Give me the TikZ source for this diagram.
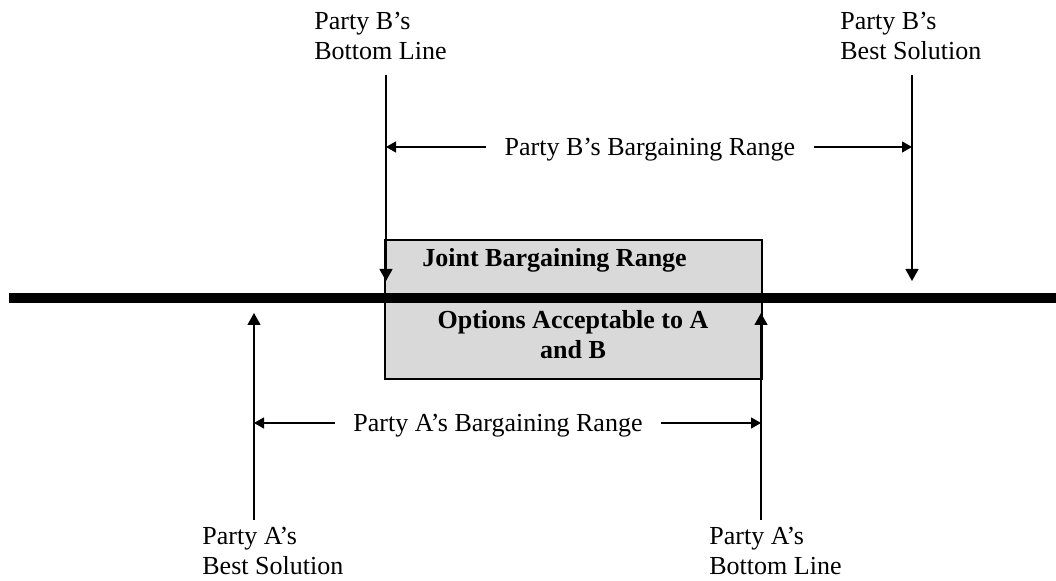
\documentclass[tikz,border=0pt]{standalone}
\usepackage{fontspec}
\setmainfont{Liberation Serif}
\usetikzlibrary{arrows.meta, positioning}
\definecolor{boxgray}{RGB}{217,217,217}
\definecolor{inkblack}{RGB}{0,0,0}
\tikzset{
  axisline/.style={line width=5pt, color=inkblack},
  marker/.style={-{Triangle[length=6pt, width=6.5pt]}, line width=0.6pt, color=inkblack},
  rangearrow/.style={-{Triangle[length=5pt, width=5.5pt]}, line width=0.6pt, color=inkblack},
  partylabel/.style={align=left, anchor=north west, inner sep=0pt,
    font=\fontsize{13}{15}\selectfont},
  rangelabel/.style={inner xsep=9pt, inner ysep=0pt, text height=8.6pt,
    text depth=0pt, font=\fontsize{13}{15}\selectfont},
  jointbox/.style={rectangle, draw=inkblack, fill=boxgray, line width=0.6pt,
    minimum width=188.5pt, minimum height=69.5pt, inner sep=0pt},
  boxtext/.style={font=\fontsize{13}{15}\selectfont\bfseries, align=center, inner sep=0pt}
}

\begin{document}
\begin{tikzpicture}[x=0.5pt, y=-0.5pt]
  \useasboundingbox (0,0) rectangle (1056,581);

  % where each party's marker sits
  \coordinate (bbot) at (386,75);
  \coordinate (bbest) at (912,75);
  \coordinate (abest) at (254,520);
  \coordinate (abot) at (761,520);
  \coordinate (axis-w) at (9,298);
  \coordinate (axis-e) at (1056,298);
  \coordinate (axis-top) at (0,281);
  \coordinate (axis-bot) at (0,313);

  % overlap of the two ranges
  \node[jointbox] (joint) at (573.5,309.5) {};
  \node[boxtext, anchor=base west] (jointlbl) at (422,267) {Joint Bargaining Range};
  \node[boxtext, anchor=north] (options) at (573,310) {Options Acceptable to A\\and B};

  \draw[axisline] (axis-w) -- (axis-e);

  % Party B, above the axis
  \node[partylabel] (bbotlbl) at (314,12) {Party B's\\Bottom Line};
  \node[partylabel] (bbestlbl) at (840,12) {Party B's\\Best Solution};
  \draw[marker] (bbot) -- (bbot |- axis-top);
  \draw[marker] (bbest) -- (bbest |- axis-top);
  \node[rangelabel] (brange) at (650,147) {Party B's Bargaining Range};
  \draw[rangearrow] (brange.west) -- (brange.west -| bbot);
  \draw[rangearrow] (brange.east) -- (brange.east -| bbest);

  % Party A, below the axis
  \node[partylabel] (abestlbl) at (202,527) {Party A's\\Best Solution};
  \node[partylabel] (abotlbl) at (709,527) {Party A's\\Bottom Line};
  \draw[marker] (abest) -- (abest |- axis-bot);
  \draw[marker] (abot) -- (abot |- axis-bot);
  \node[rangelabel] (arange) at (498,423) {Party A's Bargaining Range};
  \draw[rangearrow] (arange.west) -- (arange.west -| abest);
  \draw[rangearrow] (arange.east) -- (arange.east -| abot);
\end{tikzpicture}
\end{document}
